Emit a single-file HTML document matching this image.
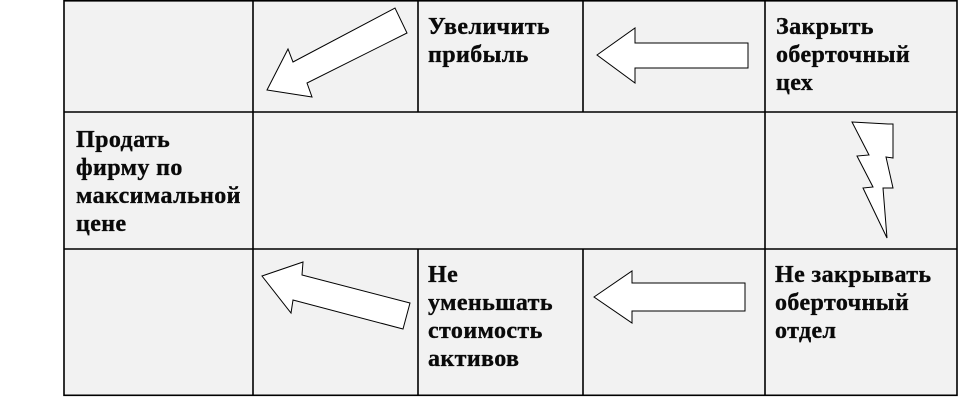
<!DOCTYPE html>
<html><head><meta charset="utf-8"><style>
body{margin:0;background:#fff;width:968px;height:407px;overflow:hidden;position:relative}
svg{position:absolute;left:0;top:0}
.t{position:absolute;font-family:"Liberation Serif","DejaVu Serif",serif;font-weight:bold;font-size:24px;line-height:28px;letter-spacing:0.4px;color:#0a0a0a;-webkit-text-stroke:0.35px #0a0a0a;white-space:nowrap}
</style></head><body>
<svg width="968" height="407" viewBox="0 0 968 407">
<rect x="64" y="0" width="893" height="395" fill="#f2f2f2"/>
<g stroke="#000" stroke-width="1.6" fill="none">
<rect x="64" y="0.8" width="893" height="394.5"/>
<line x1="64" y1="112" x2="957" y2="112"/>
<line x1="64" y1="249" x2="957" y2="249"/>
<line x1="253" y1="0" x2="253" y2="395"/>
<line x1="765" y1="0" x2="765" y2="395"/>
<line x1="418" y1="0" x2="418" y2="112"/>
<line x1="583" y1="0" x2="583" y2="112"/>
<line x1="418" y1="249" x2="418" y2="395"/>
<line x1="583" y1="249" x2="583" y2="395"/>
</g>
<g stroke="#000" stroke-width="1" fill="#fff">
<polygon points="267,90 288,49 293,62 395,8 407,33 307,83 312,97"/>
<polygon points="597,55 635,28 635,43 748,43 748,68 635,68 635,83"/>
<polygon points="262,276 303,262 302,275 410,303 403,329 293,300 291,313"/>
<polygon points="594,297 632,271 632,283 745,283 745,311 632,311 632,323"/>
<polygon points="852,122 888,124 893,124 893,158 886,157 893,188 883,188 887,238 863,188 873,187 857,156 869,155"/>
</g>
</svg>
<div class="t" style="left:428px;top:13px">Увеличить<br>прибыль</div>
<div class="t" style="left:776px;top:13px">Закрыть<br>оберточный<br>цех</div>
<div class="t" style="left:76px;top:126px">Продать<br>фирму по<br>максимальной<br>цене</div>
<div class="t" style="left:428px;top:261px">Не<br>уменьшать<br>стоимость<br>активов</div>
<div class="t" style="left:775px;top:261px">Не закрывать<br>оберточный<br>отдел</div>
</body></html>
